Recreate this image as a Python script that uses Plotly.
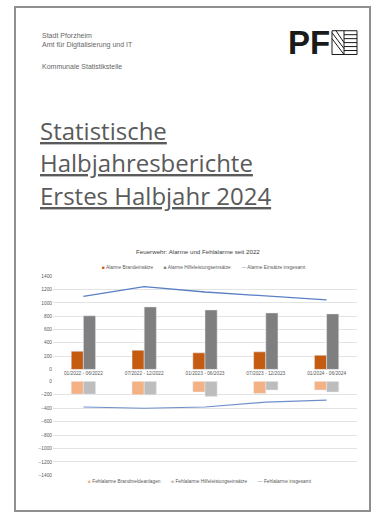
import plotly.graph_objects as go

# ---------------- data ----------------
categories = ["01/2022 - 06/2022", "07/2022 - 12/2022", "01/2023 - 06/2023",
              "07/2023 - 12/2023", "01/2024 - 06/2024"]
alarme_brand = [273, 288, 249, 264, 213]
alarme_hilfe = [806, 940, 894, 850, 835]
alarme_gesamt = [1100, 1244, 1164, 1109, 1045]
fehl_brand = [-190, -200, -160, -180, -130]
fehl_hilfe = [-190, -200, -225, -130, -160]
fehl_gesamt = [-383, -400, -383, -310, -280]

top_names = ["Alarme Brandeinsätze", "Alarme Hilfeleistungseinsätze", "Alarme Einsätze insgesamt"]
bottom_names = ["Fehlalarme Brandmeldeanlagen", "Fehlalarme Hilfeleistungseinsätze", "Fehlalarme insgesamt"]
top_ticks = [0, 200, 400, 600, 800, 1000, 1200, 1400]
bottom_ticks = [-1400, -1200, -1000, -800, -600, -400, -200, 0]

chart_title = "Feuerwehr: Alarme und Fehlalarme seit 2022"
header_lines = ["Stadt Pforzheim", "Amt für Digitalisierung und IT"]
header_sub = "Kommunale Statistikstelle"
title_lines = ["Statistische", "Halbjahresberichte", "Erstes Halbjahr 2024"]

# ---------------- style ----------------
W, H = 382, 517
C_OR, C_GR, C_BL = "#C55A11", "#7F7F7F", "#5B7FC4"
C_LOR, C_LGR, C_LBL = "#F4B183", "#BDBDBD", "#6F8FCB"
GRID = "#E3E3E3"
TXT = "#595959"


def X(px):
    return px / W


def Y(py):
    return 1 - py / H


fig = go.Figure()
fig.add_trace(go.Bar(x=categories, y=alarme_brand, name=top_names[0], marker_color=C_OR,
                     xaxis="x", yaxis="y"))
fig.add_trace(go.Bar(x=categories, y=alarme_hilfe, name=top_names[1], marker_color=C_GR,
                     xaxis="x", yaxis="y"))
fig.add_trace(go.Scatter(x=categories, y=alarme_gesamt, name=top_names[2], mode="lines",
                         line=dict(color=C_BL, width=1.3), xaxis="x", yaxis="y"))
fig.add_trace(go.Bar(x=categories, y=fehl_brand, name=bottom_names[0], marker_color=C_LOR,
                     xaxis="x2", yaxis="y2"))
fig.add_trace(go.Bar(x=categories, y=fehl_hilfe, name=bottom_names[1], marker_color=C_LGR,
                     xaxis="x2", yaxis="y2"))
fig.add_trace(go.Scatter(x=categories, y=fehl_gesamt, name=bottom_names[2], mode="lines",
                         line=dict(color=C_LBL, width=1.1), xaxis="x2", yaxis="y2"))

ax_font = dict(family="Liberation Sans, Arial", size=4.8, color=TXT)
fig.update_layout(
    width=W, height=H, margin=dict(l=0, r=0, t=0, b=0),
    paper_bgcolor="white", plot_bgcolor="white", showlegend=False,
    barmode="group", bargap=0.6, bargroupgap=0,
    xaxis=dict(domain=[X(53), X(357)], anchor="y", showgrid=False, showline=False,
               ticks="", tickfont=ax_font, ticklabelstandoff=0),
    xaxis2=dict(domain=[X(53), X(357)], anchor="y2", matches="x", showticklabels=False,
                showgrid=False, showline=False, ticks=""),
    yaxis=dict(domain=[Y(371), Y(277)], range=[0, 1400], tickvals=top_ticks,
               showgrid=True, gridcolor=GRID, gridwidth=0.6, zeroline=False,
               tickfont=ax_font, ticks=""),
    yaxis2=dict(domain=[Y(478), Y(383)], range=[-1400, 0], tickvals=bottom_ticks,
                showgrid=True, gridcolor=GRID, gridwidth=0.6, zeroline=False,
                tickfont=ax_font, ticks=""),
)

ann = []
# header
ann.append(dict(x=X(40), y=Y(39), xref="paper", yref="paper", xanchor="left", yanchor="middle",
                text="<br>".join(header_lines), showarrow=False, align="left",
                font=dict(family="Liberation Sans, Arial", size=7, color="#666666")))
ann.append(dict(x=X(40), y=Y(65), xref="paper", yref="paper", xanchor="left", yanchor="middle",
                text=header_sub, showarrow=False,
                font=dict(family="Liberation Sans, Arial", size=7, color="#666666")))
# logo text
ann.append(dict(x=X(286), y=Y(41), xref="paper", yref="paper", xanchor="left", yanchor="middle",
                text="<b>PF</b>", showarrow=False,
                font=dict(family="Liberation Sans, Arial", size=33, color="#1a1a1a")))
# title lines
for i, t in enumerate(title_lines):
    ann.append(dict(x=X(38), y=Y(130 + 32.5 * i), xref="paper", yref="paper",
                    xanchor="left", yanchor="middle", text="<u>" + t + "</u>", showarrow=False,
                    font=dict(family="Open Sans", size=24, color="#5a5a5a")))
# chart title
ann.append(dict(x=X(198), y=Y(252), xref="paper", yref="paper", xanchor="center", yanchor="middle",
                text=chart_title, showarrow=False,
                font=dict(family="Liberation Sans, Arial", size=6.2, color="#404040")))


def legend_text(names, colors, symbols):
    parts = []
    for n, c, s in zip(names, colors, symbols):
        parts.append('<span style="color:%s">%s</span> %s' % (c, s, n))
    return "        ".join(parts)


ann.append(dict(x=X(204), y=Y(268.5), xref="paper", yref="paper", xanchor="center", yanchor="middle",
                text=legend_text(top_names, [C_OR, C_GR, C_BL], ["■", "■", "—"]), showarrow=False,
                font=dict(family="Liberation Sans, Arial", size=4.8, color=TXT)))
ann.append(dict(x=X(200), y=Y(484.5), xref="paper", yref="paper", xanchor="center", yanchor="middle",
                text=legend_text(bottom_names, [C_LOR, C_LGR, C_LBL], ["■", "■", "—"]), showarrow=False,
                font=dict(family="Liberation Sans, Arial", size=4.8, color=TXT)))
fig.update_layout(annotations=ann)

shapes = []
# page border
shapes.append(dict(type="rect", xref="paper", yref="paper", x0=X(15), x1=X(370), y0=Y(514), y1=Y(5),
                   line=dict(color="#8f8f8f", width=2)))
# logo emblem
lc = dict(color="#1a1a1a", width=1)
shapes.append(dict(type="rect", xref="paper", yref="paper", x0=X(332), x1=X(357), y0=Y(53), y1=Y(29), line=lc))
shapes.append(dict(type="line", xref="paper", yref="paper", x0=X(344), x1=X(344), y0=Y(53), y1=Y(29), line=lc))
for yy in [33, 37, 41, 45, 49]:
    shapes.append(dict(type="line", xref="paper", yref="paper", x0=X(344), x1=X(357), y0=Y(yy), y1=Y(yy), line=lc))
for (a, b, c, d) in [(332, 31, 344, 47), (332, 37, 344, 53), (336, 29, 344, 41)]:
    shapes.append(dict(type="line", xref="paper", yref="paper", x0=X(a), y0=Y(b), x1=X(c), y1=Y(d), line=lc))
fig.update_layout(shapes=shapes)

fig.write_html("out.html", config={"displayModeBar": False},
               post_script="document.body.style.margin='0';document.body.style.overflow='hidden';")
